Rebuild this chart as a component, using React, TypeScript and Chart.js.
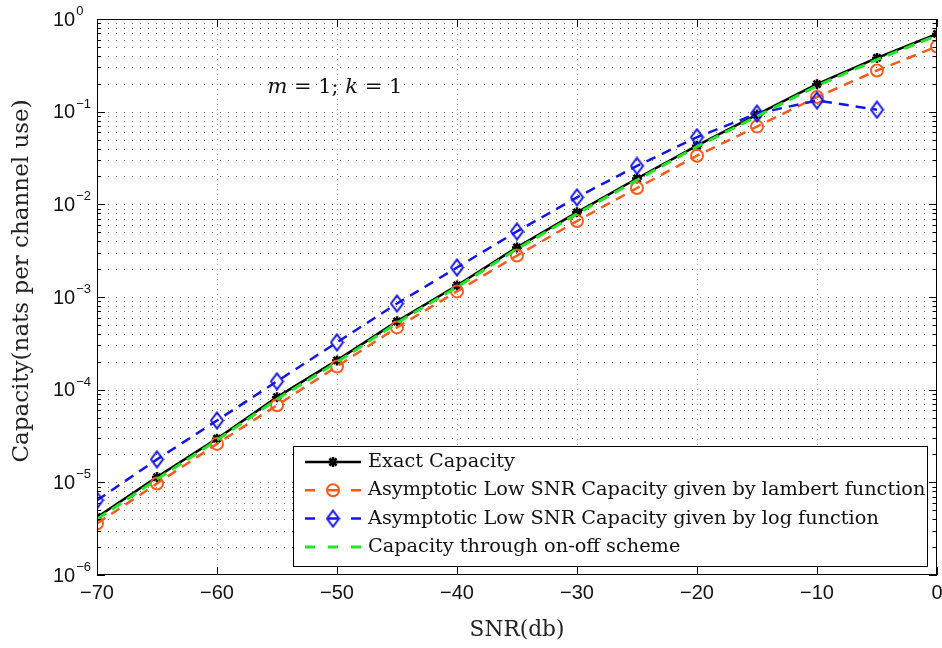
import React, { useEffect, useRef } from "react";
import { Chart, registerables } from "chart.js";

Chart.register(...registerables);

// ---------- data ----------
const snrDb = [-70, -65, -60, -55, -50, -45, -40, -35, -30, -25, -20, -15, -10, -5, 0];
const exactCapacity = [4.2e-6, 1.14e-5, 2.96e-5, 8.3e-5, 2.07e-4, 5.46e-4, 1.33e-3, 3.43e-3, 8.2e-3, 1.9e-2, 4.3e-2, 0.093, 0.198, 0.38, 0.69];
const lambertCapacity = [3.6e-6, 9.7e-6, 2.6e-5, 6.8e-5, 1.78e-4, 4.7e-4, 1.15e-3, 2.8e-3, 6.6e-3, 1.5e-2, 0.0335, 0.069, 0.144, 0.278, 0.505];
const logCapacity = [6.4e-6, 1.77e-5, 4.65e-5, 1.23e-4, 3.24e-4, 8.5e-4, 2.08e-3, 5.1e-3, 1.19e-2, 2.6e-2, 0.053, 0.0955, 0.132, 0.105, null];
const onOffCapacity = [4.0e-6, 1.08e-5, 2.85e-5, 7.9e-5, 1.98e-4, 5.25e-4, 1.28e-3, 3.3e-3, 7.9e-3, 1.83e-2, 0.042, 0.089, 0.19, 0.365, 0.665];

const seriesLabels = [
  "Exact Capacity",
  "Asymptotic Low SNR Capacity given by lambert function",
  "Asymptotic Low SNR Capacity given by log function",
  "Capacity through on-off scheme",
];
const xTickValues = [-70, -60, -50, -40, -30, -20, -10, 0];
const yDecadeExponents = [-6, -5, -4, -3, -2, -1, 0];
const xTitle = "SNR(db)";
const yTitle = "Capacity(nats per channel use)";
const annotationParts = [
  { t: "m", italic: true },
  { t: " = 1; ", italic: false },
  { t: "k", italic: true },
  { t: " = 1", italic: false },
];
const annotationAnchor = { snr: -55.8, cap: 0.18 };

// ---------- styles ----------
const BLACK = "#000000";
const ORANGE = "#ff5a1a";
const BLUE = "#1414ee";
const GREEN = "#22e622";
const SERIF = "'DejaVu Serif', serif";
const SANS = "'Liberation Sans', Arial, sans-serif";

function makeDiamond(color: string) {
  const c = document.createElement("canvas");
  const w = 15, h = 19;
  c.width = w;
  c.height = h;
  const ctx = c.getContext("2d")!;
  ctx.strokeStyle = color;
  ctx.lineWidth = 2;
  ctx.beginPath();
  ctx.moveTo(w / 2, 1.5);
  ctx.lineTo(w - 1.5, h / 2);
  ctx.lineTo(w / 2, h - 1.5);
  ctx.lineTo(1.5, h / 2);
  ctx.closePath();
  ctx.stroke();
  return c;
}

function drawStar(ctx: CanvasRenderingContext2D, x: number, y: number, r: number) {
  ctx.beginPath();
  for (let i = 0; i < 4; i++) {
    const a = (i * Math.PI) / 4;
    ctx.moveTo(x - r * Math.cos(a), y - r * Math.sin(a));
    ctx.lineTo(x + r * Math.cos(a), y + r * Math.sin(a));
  }
  ctx.stroke();
}

const matlabPlugin = {
  id: "matlabAxes",
  beforeDatasetsDraw(chart: any) {
    const { ctx, chartArea: a, scales } = chart;
    const x = scales.x, y = scales.y;
    ctx.save();
    ctx.lineWidth = 1;
    // horizontal dotted grid (major + minor)
    ctx.strokeStyle = "rgba(0,0,0,0.55)";
    ctx.setLineDash([1, 7]);
    for (const e of yDecadeExponents) {
      for (let m = 1; m <= 9; m++) {
        const v = m * Math.pow(10, e);
        if (v <= 1e-6 || v >= 1) continue;
        const py = Math.round(y.getPixelForValue(v)) + 0.5;
        ctx.beginPath();
        ctx.moveTo(a.left + 3, py);
        ctx.lineTo(a.right, py);
        ctx.stroke();
      }
    }
    // vertical dotted grid
    ctx.strokeStyle = "rgba(0,0,0,0.4)";
    ctx.setLineDash([1, 4]);
    for (const v of xTickValues) {
      const px = Math.round(x.getPixelForValue(v)) + 0.5;
      if (px <= a.left + 1 || px >= a.right - 1) continue;
      ctx.beginPath();
      ctx.moveTo(px, a.top);
      ctx.lineTo(px, a.bottom);
      ctx.stroke();
    }
    ctx.restore();
  },
  afterDatasetsDraw(chart: any) {
    const { ctx, chartArea: a, scales } = chart;
    const x = scales.x, y = scales.y;
    ctx.save();
    ctx.setLineDash([]);
    ctx.strokeStyle = "#000";
    ctx.lineWidth = 1;
    // box
    ctx.strokeRect(Math.round(a.left) + 0.5, Math.round(a.top) + 0.5, Math.round(a.right - a.left) - 1, Math.round(a.bottom - a.top) - 1);
    // x ticks (bottom & top)
    for (const v of xTickValues) {
      const px = Math.round(x.getPixelForValue(v)) + 0.5;
      ctx.beginPath();
      ctx.moveTo(px, a.bottom);
      ctx.lineTo(px, a.bottom - 8);
      ctx.moveTo(px, a.top);
      ctx.lineTo(px, a.top + 8);
      ctx.stroke();
    }
    // y ticks
    for (const e of yDecadeExponents) {
      for (let m = 1; m <= 9; m++) {
        const v = m * Math.pow(10, e);
        if (v > 1) continue;
        const py = Math.round(y.getPixelForValue(v)) + 0.5;
        const len = m === 1 ? 8 : 4;
        ctx.beginPath();
        ctx.moveTo(a.left, py);
        ctx.lineTo(a.left + len, py);
        ctx.moveTo(a.right, py);
        ctx.lineTo(a.right - len, py);
        ctx.stroke();
      }
    }
    // y tick labels 10^e
    ctx.fillStyle = "#111";
    for (const e of yDecadeExponents) {
      const py = y.getPixelForValue(Math.pow(10, e));
      ctx.font = `20px ${SANS}`;
      ctx.textAlign = "left";
      ctx.textBaseline = "middle";
      const bx = a.left - 44;
      ctx.fillText("10", bx, py + 1);
      const w10 = ctx.measureText("10").width;
      ctx.font = `13px ${SANS}`;
      ctx.textBaseline = "alphabetic";
      ctx.fillText(e === 0 ? "0" : "\u2212" + Math.abs(e), bx + w10 + 1, py - 4);
    }
    // axis titles
    ctx.fillStyle = "#222";
    ctx.textAlign = "center";
    ctx.textBaseline = "middle";
    ctx.font = `21.7px ${SERIF}`;
    ctx.fillText(xTitle, (a.left + a.right) / 2, 630);
    ctx.save();
    ctx.translate(22, 281);
    ctx.rotate(-Math.PI / 2);
    ctx.font = `23px ${SERIF}`;
    ctx.fillText(yTitle, 0, 0);
    ctx.restore();
    // annotation
    let ax = x.getPixelForValue(annotationAnchor.snr);
    const ay = y.getPixelForValue(annotationAnchor.cap);
    ctx.textAlign = "left";
    ctx.textBaseline = "middle";
    ctx.fillStyle = "#111";
    for (const p of annotationParts) {
      ctx.font = `${p.italic ? "italic " : ""}21px ${SERIF}`;
      ctx.fillText(p.t, ax, ay);
      ax += ctx.measureText(p.t).width;
    }
    // legend
    const lx0 = 293.5, ly0 = 446.5, lx1 = a.right - 9.5, ly1 = a.bottom - 8.5;
    ctx.fillStyle = "#fff";
    ctx.fillRect(lx0, ly0, lx1 - lx0, ly1 - ly0);
    ctx.strokeStyle = "#000";
    ctx.lineWidth = 1;
    ctx.strokeRect(lx0, ly0, lx1 - lx0, ly1 - ly0);
    const colors = [BLACK, ORANGE, BLUE, GREEN];
    const diamond = makeDiamond(BLUE);
    for (let i = 0; i < 4; i++) {
      const ry = 462 + i * 28.3;
      ctx.strokeStyle = colors[i];
      ctx.lineWidth = i === 3 ? 3 : 2.5;
      ctx.setLineDash(i === 0 ? [] : [10, 13]);
      ctx.beginPath();
      ctx.moveTo(305, ry);
      ctx.lineTo(361, ry);
      ctx.stroke();
      ctx.setLineDash([]);
      if (i === 0) {
        ctx.lineWidth = 2.5;
        drawStar(ctx, 333, ry, 5);
      } else if (i === 1) {
        ctx.lineWidth = 2;
        ctx.beginPath();
        ctx.arc(333, ry, 6, 0, Math.PI * 2);
        ctx.stroke();
      } else if (i === 2) {
        ctx.drawImage(diamond, 333 - diamond.width / 2, ry - diamond.height / 2);
      }
      ctx.fillStyle = "#111";
      ctx.font = `19.3px ${SERIF}`;
      ctx.textAlign = "left";
      ctx.textBaseline = "middle";
      ctx.fillText(seriesLabels[i], 368, ry);
    }
    ctx.restore();
  },
};

export default function App() {
  const ref = useRef<HTMLCanvasElement | null>(null);
  useEffect(() => {
    document.body.style.margin = "0";
    document.body.style.background = "#fff";
    const canvas = ref.current!;
    const diamond = makeDiamond(BLUE);
    const chart = new Chart(canvas, {
      type: "line",
      data: {
        labels: snrDb,
        datasets: [
          {
            label: seriesLabels[0],
            data: snrDb.map((s, i) => ({ x: s, y: exactCapacity[i] })),
            borderColor: BLACK,
            backgroundColor: BLACK,
            borderWidth: 2.5,
            pointStyle: "star",
            pointRadius: 5,
            pointBorderWidth: 2.5,
            pointBorderColor: BLACK,
            order: 4,
          },
          {
            label: seriesLabels[1],
            data: snrDb.map((s, i) => ({ x: s, y: lambertCapacity[i] })),
            borderColor: ORANGE,
            backgroundColor: "transparent",
            borderWidth: 2.5,
            borderDash: [10, 7],
            pointStyle: "circle",
            pointRadius: 6,
            pointBorderWidth: 2,
            pointBorderColor: ORANGE,
            pointBackgroundColor: "transparent",
            order: 3,
          },
          {
            label: seriesLabels[2],
            data: snrDb.map((s, i) => ({ x: s, y: logCapacity[i] })),
            borderColor: BLUE,
            backgroundColor: "transparent",
            borderWidth: 2.5,
            borderDash: [10, 7],
            pointStyle: diamond,
            pointRadius: 7,
            order: 2,
          },
          {
            label: seriesLabels[3],
            data: snrDb.map((s, i) => ({ x: s, y: onOffCapacity[i] })),
            borderColor: GREEN,
            backgroundColor: "transparent",
            borderWidth: 3,
            borderDash: [11, 7],
            pointRadius: 0,
            order: 1,
          },
        ],
      },
      options: {
        responsive: false,
        animation: false,
        devicePixelRatio: 1,
        layout: { autoPadding: false, padding: { left: 0, top: 19, right: 5, bottom: 0 } },
        plugins: { legend: { display: false }, tooltip: { enabled: false } },
        elements: { line: { tension: 0 } },
        scales: {
          x: {
            type: "linear",
            min: -70,
            max: 0,
            afterBuildTicks: (scale: any) => {
              scale.ticks = xTickValues.map((v) => ({ value: v }));
            },
            afterFit: (scale: any) => {
              scale.height = 73;
              scale.paddingLeft = 0;
              scale.paddingRight = 0;
            },
            ticks: {
              padding: 6,
              color: "#111",
              font: { family: SANS, size: 20 },
              maxRotation: 0,
              autoSkip: false,
              callback: (v: any) => String(v).replace("-", "\u2212"),
            },
            grid: { display: false, drawTicks: false },
            border: { display: false },
          },
          y: {
            type: "logarithmic",
            min: 1e-6,
            max: 1,
            afterFit: (scale: any) => {
              scale.width = 97;
              scale.paddingTop = 0;
              scale.paddingBottom = 0;
            },
            ticks: { display: false },
            grid: { display: false, drawTicks: false },
            border: { display: false },
          },
        },
      },
      plugins: [matlabPlugin],
    } as any);
    return () => chart.destroy();
  }, []);
  return (
    <div style={{ width: 942, height: 648, background: "#fff" }}>
      <canvas ref={ref} width={942} height={648} style={{ display: "block" }} />
    </div>
  );
}
